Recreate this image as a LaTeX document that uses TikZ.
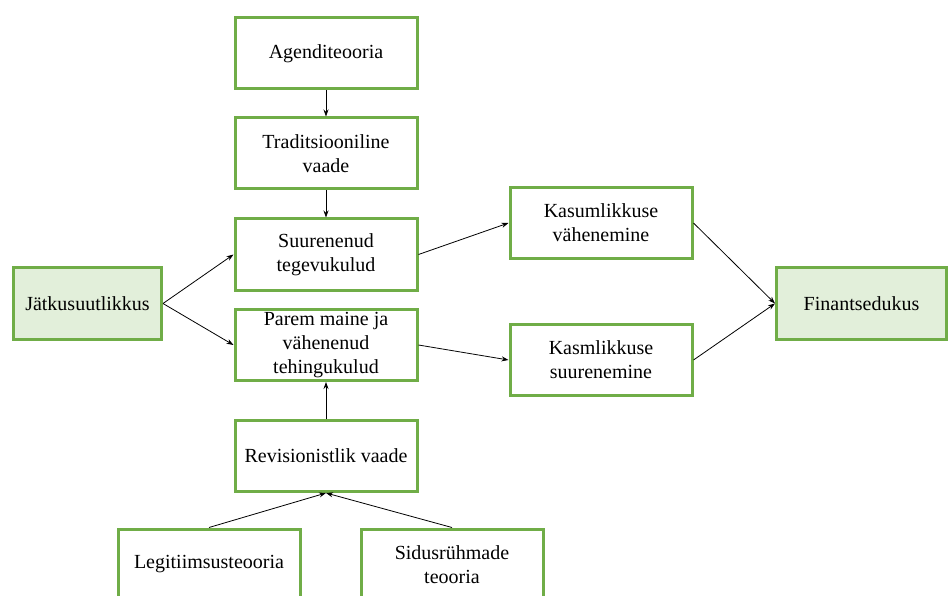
\documentclass[tikz,border=0pt]{standalone}
\usepackage{fontspec}
\setmainfont{Liberation Serif}
\usetikzlibrary{arrows.meta}
\definecolor{boxgreen}{HTML}{70AD47}
\definecolor{boxfill}{HTML}{E2EFDA}
\begin{document}
\begin{tikzpicture}[x=1pt,y=-1pt,
  box/.style={draw=boxgreen,line width=3pt,minimum width=182pt,minimum height=71pt,
    inner sep=0pt,align=center,font=\fontsize{20}{24}\selectfont},
  endbox/.style={box,fill=boxfill},
  link/.style={-{Stealth[length=7pt,width=5pt]},line width=0.8pt}]%
\useasboundingbox (0,0) rectangle (948,596);
\clip (0,0) rectangle (948,596);
% boxes
\node[box] (agend) at (326,53.5) {Agenditeooria};
\node[box] (trad) at (326,153.5) {Traditsiooniline\\vaade};
\node[box] (suur) at (326,254.5) {Suurenenud\\tegevukulud};
\node[box] (parem) at (326,345) {Parem maine ja\\vähenenud\\tehingukulud};
\node[box] (rev) at (326,456) {Revisionistlik vaade};
\node[box] (legit) at (209,564.5) {Legitiimsusteooria};
\node[box] (sidus) at (452,564.5) {Sidusrühmade\\teooria};
\node[endbox,minimum width=148pt] (jatk) at (87.5,303.5) {Jätkusuutlikkus};
\node[box] (kasum) at (601,223) {Kasumlikkuse\\vähenemine};
\node[box] (kasm) at (601,360) {Kasmlikkuse\\suurenemine};
\node[endbox,minimum width=170pt] (fin) at (861.5,303.5) {Finantsedukus};
% links
\draw[link] (agend) -- (trad);
\draw[link] (trad) -- (suur);
\draw[link] (rev) -- (parem);
\draw[link] (legit.north) -- (rev.south);
\draw[link] (sidus.north) -- (rev.south);
\draw[link] (jatk.east) -- (suur.west);
\draw[link] (jatk.east) -- (parem.west);
\draw[link] (suur.east) -- (kasum.west);
\draw[link] (parem.east) -- (kasm.west);
\draw[link] (kasum.east) -- (fin.west);
\draw[link] (kasm.east) -- (fin.west);
\end{tikzpicture}
\end{document}
